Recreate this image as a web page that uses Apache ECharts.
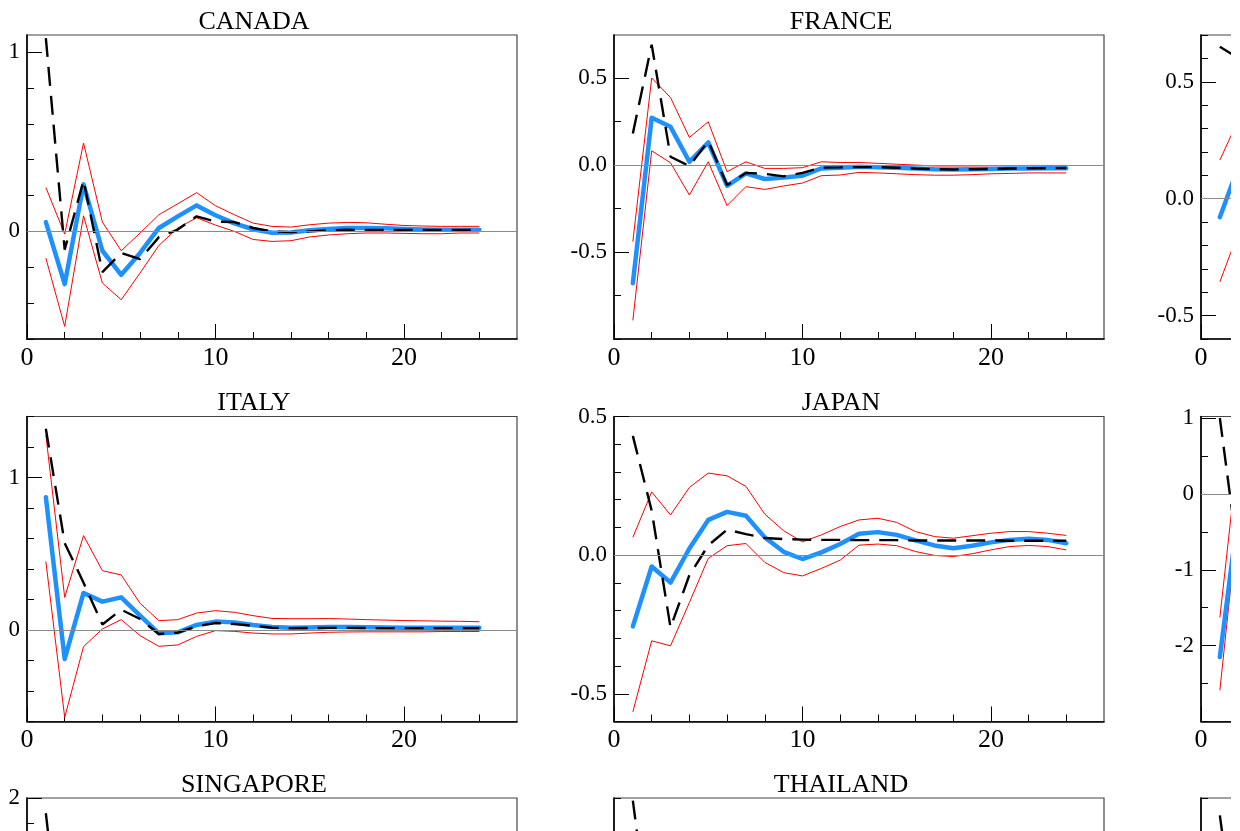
<!DOCTYPE html>
<html>
<head>
<meta charset="utf-8">
<script src="https://cdn.jsdelivr.net/npm/echarts@6/dist/echarts.min.js"></script>
<style>
  html, body { margin: 0; padding: 0; background: #ffffff; }
  #chart { width: 1231px; height: 831px; }
</style>
</head>
<body>
<div id="chart"></div>
<script>
// Forecast horizons
const horizons = [1, 2, 3, 4, 5, 6, 7, 8, 9, 10, 11, 12, 13, 14, 15, 16, 17, 18, 19, 20, 21, 22, 23, 24];

// CANADA
const canadaUpper = [0.245, -0.015, 0.493, 0.052, -0.108, -0.009, 0.093, 0.154, 0.216, 0.143, 0.093, 0.046, 0.028, 0.024, 0.037, 0.046, 0.050, 0.048, 0.040, 0.033, 0.030, 0.028, 0.028, 0.028];
const canadaLower = [-0.149, -0.530, 0.087, -0.288, -0.381, -0.232, -0.078, 0.019, 0.076, 0.035, 0.000, -0.045, -0.056, -0.052, -0.031, -0.020, -0.013, -0.009, -0.009, -0.011, -0.013, -0.013, -0.009, -0.009];
const canadaIrf = [0.052, -0.294, 0.262, -0.108, -0.242, -0.120, 0.019, 0.084, 0.145, 0.090, 0.045, 0.012, -0.008, -0.006, 0.006, 0.013, 0.019, 0.019, 0.017, 0.013, 0.011, 0.009, 0.009, 0.009];
const canadaPoint = [1.078, -0.102, 0.284, -0.227, -0.120, -0.155, -0.032, 0.010, 0.084, 0.055, 0.052, 0.019, 0.000, -0.004, 0.000, 0.006, 0.009, 0.008, 0.008, 0.008, 0.008, 0.008, 0.008, 0.008];

// FRANCE
const franceUpper = [-0.440, 0.501, 0.388, 0.159, 0.249, -0.038, 0.019, -0.019, -0.019, -0.015, 0.019, 0.015, 0.015, 0.010, 0.005, 0.000, -0.005, -0.005, -0.005, -0.004, -0.003, -0.002, -0.002, -0.002];
const franceLower = [-0.893, 0.082, 0.013, -0.172, 0.019, -0.233, -0.124, -0.140, -0.120, -0.103, -0.061, -0.057, -0.042, -0.045, -0.050, -0.055, -0.058, -0.058, -0.055, -0.050, -0.048, -0.045, -0.045, -0.045];
const franceIrf = [-0.679, 0.272, 0.220, 0.019, 0.130, -0.119, -0.048, -0.080, -0.071, -0.061, -0.019, -0.015, -0.010, -0.012, -0.015, -0.020, -0.024, -0.025, -0.024, -0.022, -0.020, -0.019, -0.018, -0.018];
const francePoint = [0.182, 0.692, 0.048, -0.006, 0.138, -0.115, -0.045, -0.050, -0.065, -0.045, -0.015, -0.013, -0.010, -0.012, -0.015, -0.020, -0.023, -0.025, -0.024, -0.022, -0.020, -0.018, -0.018, -0.017];

// Third column, first row
const thirdTopUpper = [0.165, 0.340];
const thirdTopLower = [-0.356, -0.140];
const thirdTopIrf = [-0.079, 0.140];
const thirdTopPoint = [0.650, 0.600];

// ITALY
const italyUpper = [1.280, 0.214, 0.619, 0.389, 0.361, 0.175, 0.061, 0.068, 0.111, 0.127, 0.116, 0.094, 0.076, 0.074, 0.074, 0.075, 0.072, 0.068, 0.065, 0.062, 0.060, 0.058, 0.057, 0.054];
const italyLower = [0.450, -0.573, -0.109, 0.007, 0.068, -0.037, -0.107, -0.098, -0.042, -0.004, -0.009, -0.020, -0.026, -0.026, -0.020, -0.015, -0.013, -0.012, -0.012, -0.012, -0.012, -0.010, -0.010, -0.010];
const italyIrf = [0.870, -0.190, 0.243, 0.186, 0.214, 0.094, -0.022, -0.015, 0.033, 0.055, 0.050, 0.033, 0.020, 0.015, 0.017, 0.020, 0.020, 0.018, 0.016, 0.015, 0.015, 0.015, 0.015, 0.015];
const italyPoint = [1.320, 0.570, 0.310, 0.036, 0.133, 0.072, -0.026, -0.017, 0.024, 0.046, 0.039, 0.028, 0.015, 0.012, 0.013, 0.014, 0.014, 0.013, 0.012, 0.012, 0.012, 0.012, 0.012, 0.012];

// JAPAN
const japanUpper = [0.064, 0.228, 0.145, 0.244, 0.296, 0.286, 0.248, 0.148, 0.088, 0.048, 0.073, 0.103, 0.127, 0.133, 0.118, 0.085, 0.067, 0.061, 0.070, 0.079, 0.085, 0.085, 0.079, 0.071];
const japanLower = [-0.565, -0.309, -0.327, -0.171, -0.012, 0.034, 0.042, -0.026, -0.063, -0.075, -0.048, -0.018, 0.036, 0.040, 0.034, 0.013, -0.001, -0.005, 0.005, 0.019, 0.031, 0.035, 0.031, 0.019];
const japanIrf = [-0.257, -0.041, -0.099, 0.024, 0.127, 0.156, 0.142, 0.064, 0.012, -0.014, 0.010, 0.040, 0.077, 0.083, 0.073, 0.053, 0.035, 0.025, 0.034, 0.046, 0.055, 0.059, 0.055, 0.043];
const japanPoint = [0.430, 0.160, -0.261, -0.072, 0.035, 0.092, 0.076, 0.062, 0.058, 0.056, 0.055, 0.055, 0.054, 0.054, 0.054, 0.053, 0.053, 0.053, 0.053, 0.053, 0.052, 0.052, 0.052, 0.052];

// Third column, second row
const thirdMidUpper = [-1.63, 0.62];
const thirdMidLower = [-2.59, -0.23];
const thirdMidIrf = [-2.15, -0.20];
const thirdMidPoint = [1.00, -0.89];

// Third row
const singaporePoint = [1.70, -1.50];
const thailandPoint = [1.47, -0.20];
const thirdLowPoint = [1.30, -0.30];

// Axis tick labels
const xTickLabels = [0, 10, 20];
const xMinorTicks = [2, 4, 6, 8, 12, 14, 16, 18, 22, 24];

const panels = [
  { title: 'CANADA', col: 0, row: 0, yMin: -0.6, yMax: 1.095, yLabels: [0, 1], yStep: 0.2, dec: 0,
    upper: canadaUpper, lower: canadaLower, irf: canadaIrf, point: canadaPoint },
  { title: 'FRANCE', col: 1, row: 0, yMin: -1.0, yMax: 0.748, yLabels: [-0.5, 0, 0.5], yStep: 0.25, dec: 1,
    upper: franceUpper, lower: franceLower, irf: franceIrf, point: francePoint },
  { title: '', col: 2, row: 0, yMin: -0.6, yMax: 0.7, yLabels: [-0.5, 0, 0.5], yStep: 0.1, dec: 1,
    upper: thirdTopUpper, lower: thirdTopLower, irf: thirdTopIrf, point: thirdTopPoint },
  { title: 'ITALY', col: 0, row: 1, yMin: -0.6, yMax: 1.4, yLabels: [0, 1], yStep: 0.2, dec: 0,
    upper: italyUpper, lower: italyLower, irf: italyIrf, point: italyPoint },
  { title: 'JAPAN', col: 1, row: 1, yMin: -0.6, yMax: 0.5, yLabels: [-0.5, 0, 0.5], yStep: 0.1, dec: 1,
    upper: japanUpper, lower: japanLower, irf: japanIrf, point: japanPoint },
  { title: '', col: 2, row: 1, yMin: -3, yMax: 1.02, yLabels: [-2, -1, 0, 1], yStep: 0.5, dec: 0,
    upper: thirdMidUpper, lower: thirdMidLower, irf: thirdMidIrf, point: thirdMidPoint },
  { title: 'SINGAPORE', col: 0, row: 2, yMin: -4, yMax: 2, yLabels: [-4, -3, -2, -1, 0, 1, 2], yStep: 0.5, dec: 0,
    upper: [], lower: [], irf: [], point: singaporePoint },
  { title: 'THAILAND', col: 1, row: 2, yMin: -2, yMax: 1.5, yLabels: [-2, -1, 0, 1], yStep: 0.5, dec: 0,
    upper: [], lower: [], irf: [], point: thailandPoint },
  { title: '', col: 2, row: 2, yMin: -2, yMax: 1.5, yLabels: [-2, -1, 0, 1], yStep: 0.5, dec: 0,
    upper: [], lower: [], irf: [], point: thirdLowPoint }
];

// Page layout of the panel grid
const colLeft = [27, 614, 1201];
const rowTop = [35, 416.5, 798];
const rowHeight = [304, 305, 305];
const plotWidth = 490;
const titleOffset = 227;
const xMax = 26;
const serif = 'Liberation Serif, Times New Roman, serif';

function minorValues(p) {
  const out = [];
  const n0 = Math.ceil(p.yMin / p.yStep - 1e-9);
  const n1 = Math.floor(p.yMax / p.yStep + 1e-9);
  for (let n = n0; n <= n1; n++) {
    const v = Math.round(n * p.yStep * 1e6) / 1e6;
    if (!p.yLabels.some(m => Math.abs(m - v) < 1e-9)) out.push(v);
  }
  return out;
}

const grid = [], xAxis = [], yAxis = [], series = [], graphic = [];

panels.forEach((p, k) => {
  const left = colLeft[p.col], top = rowTop[p.row], height = rowHeight[p.row];
  grid.push({ left: left, top: top, width: plotWidth, height: height, show: true,
    outerBoundsMode: 'none', containLabel: false,
    borderColor: '#444', borderWidth: 1.2, backgroundColor: 'transparent' });

  const xi = xAxis.length;
  xAxis.push({ gridIndex: k, type: 'value', position: 'bottom', min: 0, max: xMax,
    axisLine: { show: true, onZero: false, lineStyle: { color: '#000', width: 1.6 } },
    splitLine: { show: false },
    axisTick: { show: true, inside: true, length: 15, customValues: xTickLabels, lineStyle: { color: '#000', width: 1 } },
    axisLabel: { show: true, customValues: xTickLabels, fontFamily: serif, fontSize: 26, color: '#000', margin: 6 } });
  xAxis.push({ gridIndex: k, type: 'value', position: 'bottom', min: 0, max: xMax,
    axisLine: { show: false, onZero: false },
    splitLine: { show: false },
    axisTick: { show: true, inside: true, length: 7, customValues: xMinorTicks, lineStyle: { color: '#000', width: 1 } },
    axisLabel: { show: false } });

  const yi = yAxis.length;
  yAxis.push({ gridIndex: k, type: 'value', position: 'left', min: p.yMin, max: p.yMax,
    axisLine: { show: true, onZero: false, lineStyle: { color: '#000', width: 1.6 } },
    splitLine: { show: false },
    axisTick: { show: true, inside: true, length: 15, customValues: p.yLabels, lineStyle: { color: '#000', width: 1 } },
    axisLabel: { show: true, customValues: p.yLabels, fontFamily: serif, fontSize: 23, color: '#000', margin: 7,
      formatter: v => Number(v).toFixed(p.dec) } });
  yAxis.push({ gridIndex: k, type: 'value', position: 'left', min: p.yMin, max: p.yMax,
    axisLine: { show: false, onZero: false },
    splitLine: { show: false },
    axisTick: { show: true, inside: true, length: 7, customValues: minorValues(p), lineStyle: { color: '#000', width: 1 } },
    axisLabel: { show: false } });

  const pairs = vals => vals.map((v, i) => [horizons[i], v]);
  const zeroLine = {
    silent: true, symbol: ['none', 'none'], label: { show: false },
    lineStyle: { color: '#8a8a8a', width: 1, type: 'solid' },
    data: [{ yAxis: 0 }], animation: false
  };
  const base = { type: 'line', xAxisIndex: xi, yAxisIndex: yi, showSymbol: false, symbol: 'none', silent: true, animation: false };

  series.push(Object.assign({}, base, { name: p.title + ' upper', data: pairs(p.upper),
    lineStyle: { color: '#ff0000', width: 1 }, markLine: zeroLine }));
  series.push(Object.assign({}, base, { name: p.title + ' lower', data: pairs(p.lower),
    lineStyle: { color: '#ff0000', width: 1 } }));
  series.push(Object.assign({}, base, { name: p.title + ' response', data: pairs(p.irf),
    lineStyle: { color: '#1e90ff', width: 4.5, cap: 'round', join: 'round' } }));
  series.push(Object.assign({}, base, { name: p.title + ' point', data: pairs(p.point),
    lineStyle: { color: '#000000', width: 2.4, type: [19, 10] } }));

  if (p.title) {
    graphic.push({ type: 'text', silent: true,
      x: left + titleOffset, y: top - 13,
      style: { text: p.title, font: '26px ' + serif, fill: '#000', textAlign: 'center', textVerticalAlign: 'middle' } });
  }
});

const chart = echarts.init(document.getElementById('chart'), null, { renderer: 'canvas' });
chart.setOption({
  animation: false,
  backgroundColor: '#ffffff',
  grid: grid,
  xAxis: xAxis,
  yAxis: yAxis,
  series: series,
  graphic: graphic
});
</script>
</body>
</html>
